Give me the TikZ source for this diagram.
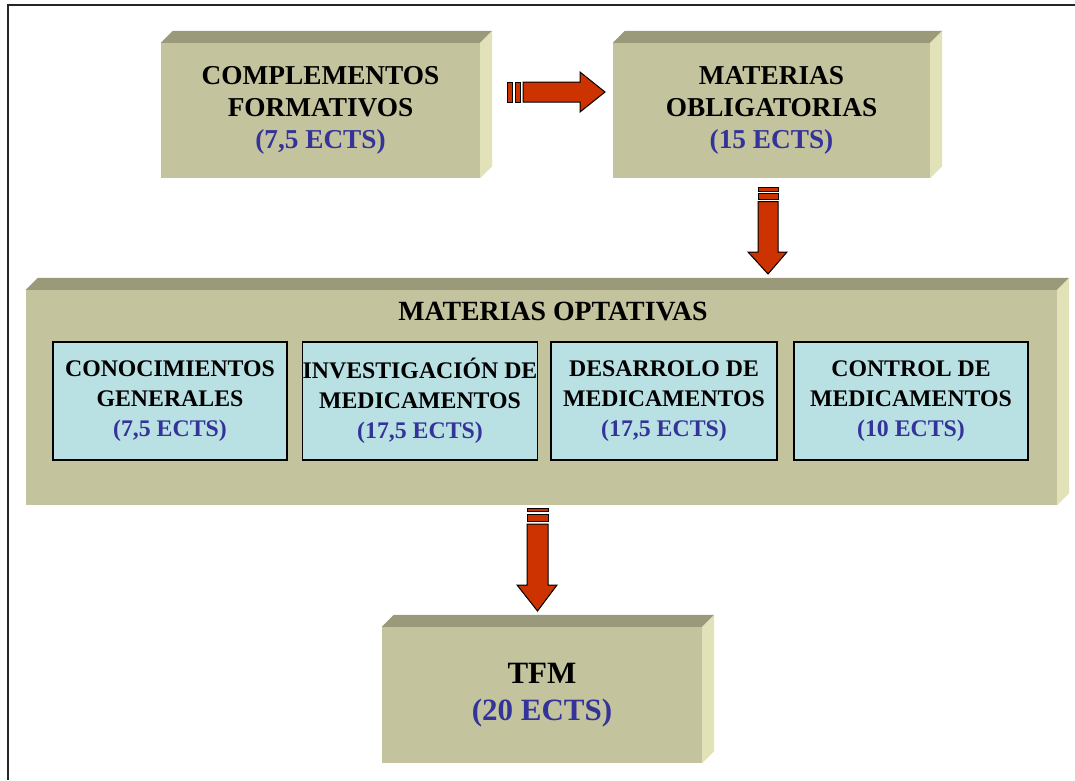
\documentclass[tikz,border=0pt]{standalone}
\usepackage{fontspec}
\setmainfont{Liberation Serif}
\definecolor{frontc}{RGB}{195,195,157}
\definecolor{topc}{RGB}{154,154,122}
\definecolor{sidec}{RGB}{226,226,184}
\definecolor{innerc}{RGB}{185,224,227}
\definecolor{ectsc}{RGB}{51,51,153}
\definecolor{arrowc}{RGB}{204,51,0}
\newcommand{\ects}[1]{\textcolor{ectsc}{#1}}
\tikzset{
  front/.style={fill=frontc, draw=none, inner sep=0pt, align=center, font=\bfseries\fontsize{27.3}{32}\selectfont},
  inner/.style={fill=innerc, draw=black, line width=1.2pt, inner sep=0pt, align=center, font=\bfseries\fontsize{23.8}{30}\selectfont},
  topface/.style={fill=topc},
  sideface/.style={fill=sidec},
  blockarrow/.style={fill=arrowc, draw=black, line width=1pt, line join=miter},
  lbl/.style={inner sep=0pt, align=center, font=\bfseries\fontsize{27.8}{32}\selectfont}
}
\newcommand{\bevel}[2]{%
  \fill[topface] (#1.north west) -- ++(#2,-#2) -- ([shift={(#2,-#2)}]#1.north east) -- (#1.north east) -- cycle;
  \fill[sideface] (#1.north east) -- ++(#2,-#2) -- ([shift={(#2,-#2)}]#1.south east) -- (#1.south east) -- cycle;
}
\begin{document}
\begin{tikzpicture}[x=1pt,y=-1pt]
\useasboundingbox (0,0) rectangle (1075,780);
\fill[white] (0,0) rectangle (1075,780);
% frame
\draw[line width=2pt, color=black!85] (1075,5) -- (8,5) -- (8,780);

% box 1
\node[front, minimum width=319pt, minimum height=135pt] (comp) at (320.5,110.5)
  {COMPLEMENTOS\\FORMATIVOS\\\ects{(7,5 ECTS)}};
\bevel{comp}{12}
% box 2
\node[front, minimum width=317pt, minimum height=135pt] (oblig) at (771.5,110.5)
  {MATERIAS\\OBLIGATORIAS\\\ects{(15 ECTS)}};
\bevel{oblig}{12}
% optativas
\node[front, minimum width=1031pt, minimum height=215pt] (opt) at (541.5,397.5) {};
\bevel{opt}{12}
\node[lbl] (optt) at (553,311) {MATERIAS OPTATIVAS};
\node[inner, minimum width=234pt, minimum height=118pt] (cg) at (170,401)
  {CONOCIMIENTOS\\GENERALES\\\ects{(7,5 ECTS)}};
\node[inner, minimum width=234pt, minimum height=118pt] (im) at (420,401)
  {INVESTIGACIÓN DE\\MEDICAMENTOS\\\ects{(17,5 ECTS)}};
\node[inner, minimum width=226pt, minimum height=118pt] (dm) at (664,401)
  {DESARROLO DE\\MEDICAMENTOS\\\ects{(17,5 ECTS)}};
\node[inner, minimum width=234pt, minimum height=118pt] (cm) at (911,401)
  {CONTROL DE\\MEDICAMENTOS\\\ects{(10 ECTS)}};
% TFM
\node[front, minimum width=320pt, minimum height=136pt, font=\bfseries\fontsize{31}{37}\selectfont] (tfm) at (542,695)
  {TFM\\\ects{(20 ECTS)}};
\bevel{tfm}{12}

% arrow comp -> oblig
\draw[blockarrow] (507,82) rectangle (512,102);
\draw[blockarrow] (515,82) rectangle (520,102);
\draw[blockarrow] (523,82) -- (580,82) -- (580,72) -- (605,92) -- (580,112) -- (580,102) -- (523,102) -- cycle;
% arrow oblig -> opt
\draw[blockarrow] (758,187) rectangle (778,191);
\draw[blockarrow] (758,193.5) rectangle (778,199);
\draw[blockarrow] (758,201.5) -- (758,252) -- (748,252) -- (768,274) -- (787,252) -- (778,252) -- (778,201.5) -- cycle;
% arrow opt -> tfm
\draw[blockarrow] (527,508) rectangle (548,511);
\draw[blockarrow] (527,514) rectangle (548,521.5);
\draw[blockarrow] (527,524) -- (527,585) -- (517,585) -- (537.5,611) -- (557,585) -- (548,585) -- (548,524) -- cycle;
\end{tikzpicture}
\end{document}
